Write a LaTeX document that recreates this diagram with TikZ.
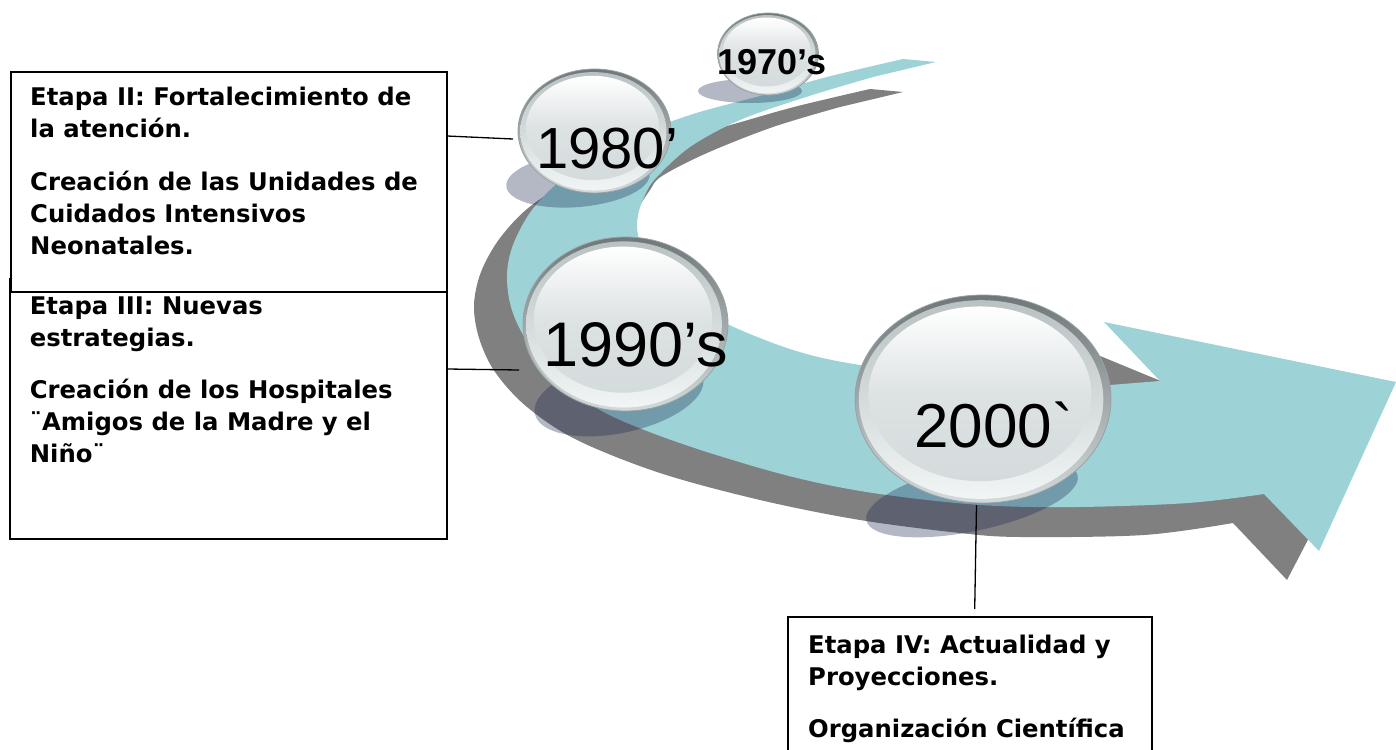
\documentclass[tikz,border=0pt]{standalone}
\usepackage{fontspec}
\newfontfamily\boxfont{DejaVu Sans}
\newfontfamily\yearfont{Liberation Sans}[Ligatures=TeXOff]
\definecolor{bandteal}{HTML}{9DD3D7}
\definecolor{bandgray}{HTML}{808080}
\definecolor{shadowc}{HTML}{17224C}
\definecolor{rimtop}{HTML}{6F7779}
\definecolor{rimbot}{HTML}{D3DADB}
\definecolor{rimline}{HTML}{98A1A3}
\definecolor{ringtop}{HTML}{B9C1C2}
\definecolor{ringbot}{HTML}{F1F5F5}
\definecolor{innermid}{HTML}{DDE2E3}
\definecolor{innerbot}{HTML}{D4DBDC}
\newcommand{\gbubble}[4]{%
 \begin{scope}[shift={(#1,#2)}]
  \shade[top color=rimtop,bottom color=rimbot,draw=rimline,line width=0.8pt] (0,0) ellipse [x radius=#3,y radius=#4];
  \shade[top color=ringtop,bottom color=ringbot] (-0.015*#3,0.005*#4) ellipse [x radius=0.955*#3,y radius=0.955*#4];
  \shade[top color=white,bottom color=innerbot,middle color=innermid] (-0.025*#3,-0.05*#4) ellipse [x radius=0.87*#3,y radius=0.84*#4];
 \end{scope}}
\newcommand{\gshadow}[5]{%
  \fill[shadowc,fill opacity=0.32,rotate around={#5:(#1,#2)}] (#1,#2) ellipse [x radius=#3,y radius=#4];}
\tikzset{
 boxst/.style={draw=black,line width=1.5pt,fill=white,inner sep=0pt,outer sep=0pt,anchor=north west},
 conn/.style={draw=black,line width=1.3pt},
 boxtxt/.style={anchor=base west,inner sep=0pt,font=\boxfont\bfseries\fontsize{24.3}{32}\selectfont},
 yeartxt/.style={anchor=base west,inner sep=0pt},
}
\begin{document}
\begin{tikzpicture}[x=1pt,y=-1pt]
\useasboundingbox (0,0) rectangle (1396,749);
\clip (0,0) rectangle (1396,749);
% gray shadow band
\fill[bandgray] (903,92) -- plot[smooth,tension=0.55] coordinates {(870,89) (794,107) (727,126) (657,145) (587,172) (532,205) (500,238) (481,272) (474,305) (479,338) (495,372) (527,407) (577,440) (660,473) (760,500) (860,520) (960,533) (1020,537) (1144,535) (1233,523)}
  -- (1287,580) -- (1350,459) -- (1071,344) -- (1110,400)
  -- plot[smooth,tension=0.55] coordinates {(1000,410) (900,402) (800,385) (700,345) (640,290) (625,250) (635,215) (650,190) (662,176) (707,153) (773,127) (840,107)} -- cycle;
% teal band
\fill[bandteal] (936,62) -- plot[smooth,tension=0.55] coordinates {(903,59) (827,77) (760,96) (690,115) (620,142) (565,177) (532,210) (513,245) (507,275) (511,307) (525,338) (555,378) (600,410) (647,431) (710,453) (793,477) (873,493) (980,505) (1077,507) (1188,503) (1264,494)}
  -- (1319,551) -- (1396,382) -- (1104,322) -- (1160,381)
  -- plot[smooth,tension=0.55] coordinates {(1110,385) (985,381) (860,365) (793,350) (723,322) (675,292) (648,262) (638,235) (638,215) (645,195) (656,178) (690,147) (740,120) (806,97) (873,77)} -- cycle;
% shadows
\gshadow{750}{91}{52}{12}{0}
\gshadow{578}{180}{72}{27}{5}
\gshadow{619}{396}{86}{37}{12}
\gshadow{972}{498}{108}{33}{12}
% bubbles
\gbubble{768}{54}{50.5}{41}
\gbubble{594.5}{131}{76.5}{62}
\gbubble{625.5}{324}{102.5}{87}
\gbubble{983}{399}{128}{104}
\coordinate (c70) at (768,54);
\coordinate (c80) at (594.5,131);
\coordinate (c90) at (625.5,324);
\coordinate (c00) at (983,399);
% year labels
\node[yeartxt,font=\yearfont\bfseries\fontsize{36}{40}\selectfont] (y70) at (717.5,75) {1970’s};
\node[yeartxt,font=\yearfont\fontsize{58}{62}\selectfont] (y80) at (536,168) {1980’};
\node[yeartxt,font=\yearfont\fontsize{63}{67}\selectfont] (y90) at (543,366) {1990’s};
\node[yeartxt,font=\yearfont\fontsize{62}{66}\selectfont] (y00) at (914,447) {2000\char"60};
% boxes
\node[boxst,minimum width=437,minimum height=260] (b2) at (10,279) {};
\node[boxst,minimum width=436,minimum height=220] (b1) at (11,72) {};
\node[boxst,minimum width=364,minimum height=160] (b3) at (788,617) {};
\node[boxtxt] (t1) at (30,105.7) {\parbox[t]{420pt}{\raggedright Etapa II: Fortalecimiento de\\la atención.\par\vspace{20.5pt}Creación de las Unidades de\\Cuidados Intensivos\\Neonatales.}};
\node[boxtxt] (t2) at (29.7,314) {\parbox[t]{420pt}{\raggedright Etapa III: Nuevas\\estrategias.\par\vspace{20.5pt}Creación de los Hospitales\\¨Amigos de la Madre y el\\Niño¨}};
\node[boxtxt] (t3) at (808,653.3) {\parbox[t]{340pt}{\raggedright Etapa IV: Actualidad y\\Proyecciones.\par\vspace{20.5pt}Organización Científica}};
% connectors
\coordinate (k1a) at (447,136);
\coordinate (k1b) at (513,139);
\coordinate (k2a) at (447,369);
\coordinate (k2b) at (519,370);
\coordinate (k3a) at (976.5,505);
\coordinate (k3b) at (974.7,609);
\draw[conn] (k1a) -- (k1b);
\draw[conn] (k2a) -- (k2b);
\draw[conn] (k3a) -- (k3b);
\end{tikzpicture}
\end{document}
